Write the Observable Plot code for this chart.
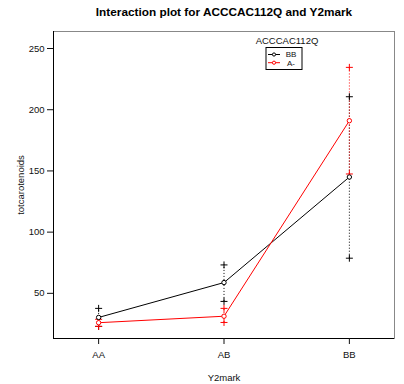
<!DOCTYPE html>
<html>
<head>
<meta charset="utf-8">
<script src="https://cdn.jsdelivr.net/npm/d3@7"></script>
<script src="https://cdn.jsdelivr.net/npm/@observablehq/plot@0.6"></script>
<style>
  html, body { margin: 0; padding: 0; background: #fff; }
  #chart { width: 404px; height: 384px; }
</style>
</head>
<body>
<div id="chart"></div>
<script>
// ---- data ----
const categories = ["AA", "AB", "BB"];          // Y2mark levels
const groups = ["BB", "A-"];                     // ACCCAC112Q levels
const groupColors = ["black", "red"];
const meanBB  = [30.3, 58.8, 145.0];
const upperBB = [37.7, 73.2, 210.6];
const lowerBB = [23.0, 43.4, 78.7];
const meanA   = [26.0, 31.3, 191.0];
const upperA  = [28.8, 37.7, 234.6];
const lowerA  = [23.0, 26.2, 147.5];
const yTicks = [50, 100, 150, 200, 250];
const titleText = "Interaction plot for ACCCAC112Q and Y2mark";
const xLabel = "Y2mark";
const yLabel = "totcarotenoids";
const legendTitle = "ACCCAC112Q";

const means = [meanBB, meanA], uppers = [upperBB, upperA], lowers = [lowerBB, lowerA];
const rows = groups.flatMap((g, j) => categories.map((c, i) => ({
  x: i + 1, cat: c, group: g, mean: means[j][i], hi: uppers[j][i], lo: lowers[j][i]
})));
const ends = rows.flatMap(d => [{...d, v: d.hi}, {...d, v: d.lo}]);

const xDomain = [0.64, 3.36];
const yDomain = [13.1, 263.9];
const font = "'Liberation Sans', Arial, Helvetica, sans-serif";

const plusSymbol = {
  draw(context, size) {
    const r = Math.sqrt(size / Math.PI);
    context.moveTo(-r, 0); context.lineTo(r, 0);
    context.moveTo(0, -r); context.lineTo(0, r);
  }
};

const chart = Plot.plot({
  width: 404,
  height: 384,
  marginLeft: 53,
  marginRight: 10,
  marginTop: 31,
  marginBottom: 46,
  style: { fontFamily: font, fontSize: "9.5px", color: "#111", background: "#fff" },
  x: { type: "linear", domain: xDomain, axis: null },
  y: { domain: yDomain, axis: null },
  color: { domain: groups, range: groupColors },
  marks: [
    Plot.frame({ stroke: "#888" }),
    Plot.ruleX([xDomain[0]], { stroke: "black" }),
    Plot.ruleY([yDomain[0]], { stroke: "black" }),
    Plot.axisY({ ticks: yTicks, tickSize: 6, tickPadding: 3, label: null, fontSize: 9.5 }),
    Plot.axisX({ ticks: [1, 2, 3], tickFormat: i => categories[i - 1], tickSize: 6, tickPadding: 7, label: null, fontSize: 9.5 }),
    Plot.ruleX(rows, { x: "x", y1: "lo", y2: "hi", stroke: "group", strokeDasharray: "1,2", strokeWidth: 1 }),
    Plot.dot(ends, { x: "x", y: "v", stroke: "group", symbol: plusSymbol, r: 3.5, strokeWidth: 1 }),
    Plot.line(rows, { x: "x", y: "mean", z: "group", stroke: "group", strokeWidth: 1 }),
    Plot.dot(rows, { x: "x", y: "mean", stroke: "group", fill: "white", r: 2.2, strokeWidth: 1 }),
    Plot.text([titleText], { frameAnchor: "top", lineAnchor: "middle", dy: -19, fontWeight: "bold", fontSize: 11.8, fill: "black" }),
    Plot.text([xLabel], { frameAnchor: "bottom", lineAnchor: "middle", dy: 39, fontSize: 9.5 }),
    Plot.text([yLabel], { frameAnchor: "left", textAnchor: "middle", lineAnchor: "middle", rotate: -90, dx: -33, fontSize: 9.5 })
  ]
});

// legend (R-style box legend inside the plot)
const svg = d3.select(chart);
const lg = svg.append("g").attr("font-family", font).attr("font-size", 8);
lg.append("text").attr("x", 287).attr("y", 41).attr("dy", "0.35em").attr("font-size", 9.5).attr("text-anchor", "middle").attr("fill", "#111").text(legendTitle);
lg.append("rect").attr("x", 266).attr("y", 47.5).attr("width", 36).attr("height", 22).attr("fill", "white").attr("stroke", "black");
groups.forEach((g, j) => {
  const y = 54.5 + j * 8.2;
  lg.append("line").attr("x1", 268).attr("x2", 280).attr("y1", y).attr("y2", y).attr("stroke", groupColors[j]);
  lg.append("circle").attr("cx", 274).attr("cy", y).attr("r", 1.6).attr("fill", "white").attr("stroke", groupColors[j]);
  lg.append("text").attr("x", 291).attr("y", y).attr("dy", "0.35em").attr("fill", "#111").text(g);
});

document.getElementById("chart").appendChild(chart);
</script>
</body>
</html>
